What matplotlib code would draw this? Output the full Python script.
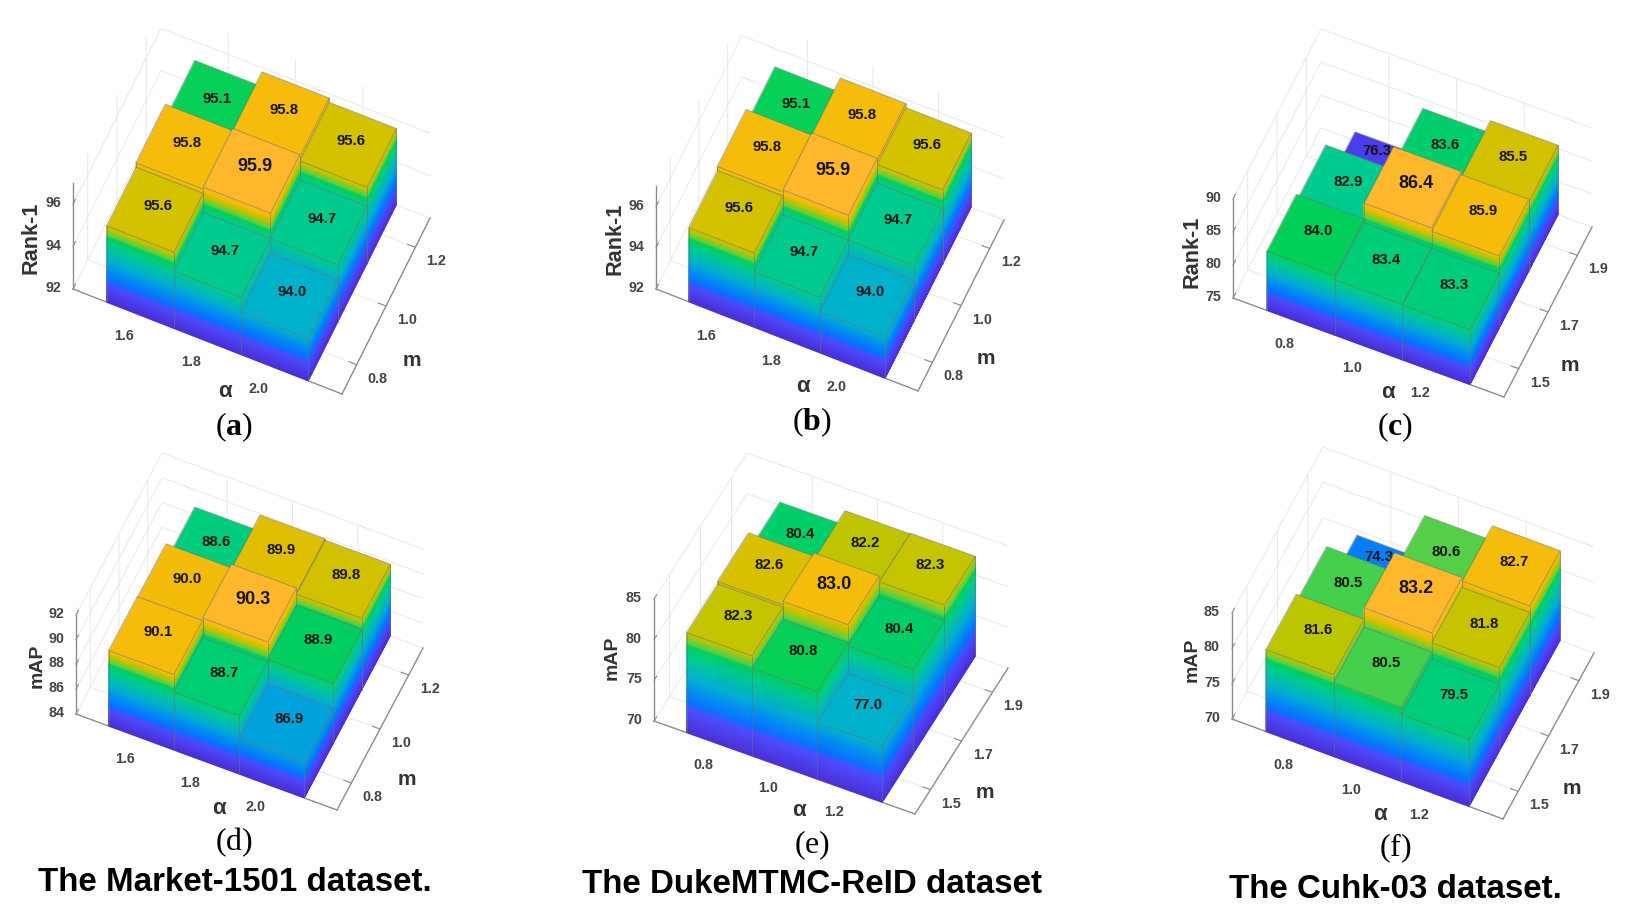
import numpy as np
import matplotlib
matplotlib.use('Agg')
import matplotlib.pyplot as plt
from matplotlib.colors import LinearSegmentedColormap
from mpl_toolkits.mplot3d import proj3d
from mpl_toolkits.mplot3d.art3d import Poly3DCollection, Line3DCollection

FW, FH = 1646, 922

# tick labels
alpha_a = ['1.6', '1.8', '2.0']
alpha_c = ['0.8', '1.0', '1.2']
m_a = ['0.8', '1.0', '1.2']
m_c = ['1.5', '1.7', '1.9']

# rows go from the front m value to the back one, columns follow alpha
rank_market = [[95.6, 94.7, 94.0], [95.8, 95.9, 94.7], [95.1, 95.8, 95.6]]
rank_duke = [[95.6, 94.7, 94.0], [95.8, 95.9, 94.7], [95.1, 95.8, 95.6]]
rank_cuhk = [[84.0, 83.4, 83.3], [82.9, 86.4, 85.9], [76.3, 83.6, 85.5]]
map_market = [[90.1, 88.7, 86.9], [90.0, 90.3, 88.9], [88.6, 89.9, 89.8]]
map_duke = [[82.3, 80.8, 77.0], [82.6, 83.0, 80.4], [80.4, 82.2, 82.3]]
map_cuhk = [[81.6, 80.5, 79.5], [80.5, 83.2, 81.8], [74.3, 80.6, 82.7]]

plt.rcParams['font.family'] = ['Liberation Sans', 'DejaVu Sans']
plt.rcParams['mathtext.fontset'] = 'custom'
plt.rcParams['mathtext.rm'] = 'Liberation Serif'
plt.rcParams['mathtext.bf'] = 'Liberation Serif:bold'

cmap = LinearSegmentedColormap.from_list('bars', [
    (0.00, '#4A2CD6'), (0.22, '#4A4CFF'), (0.27, '#0A6EFF'), (0.40, '#0090F0'),
    (0.50, '#00AFD0'), (0.62, '#00C0A8'), (0.70, '#00CC8C'), (0.795, '#00D058'),
    (0.81, '#4FCF4A'), (0.83, '#60D040'), (0.89, '#B8C600'), (0.93, '#D8C000'),
    (0.955, '#F5BC0C'), (0.98, '#F5BC0C'), (1.00, '#FFB82C')])

fig = plt.figure(figsize=(FW / 100, FH / 100), dpi=100)


def px_text(x, y, s, **kw):
    fig.text(x / FW, 1 - y / FH, s, ha='center', va='center', **kw)


def label3d(ax, x, y, z, s, dx, dy, **kw):
    # put a text next to a 3D point, shifted by some pixels on the page
    px, py, _ = proj3d.proj_transform(x, y, z, ax.get_proj())
    ax.annotate(s, (px, py), xytext=(dx, dy), textcoords='offset pixels', ha='center', va='center',
                annotation_clip=False, **kw)


def draw_panel(values, xlabels, ylabels, zticks, zlim, cmax, left, front, right, zpx, lift=None):
    values = np.array(values)
    # view from where the floor corners sit on the page
    ex = np.array(front) - np.array(left)
    ey = np.array(right) - np.array(front)
    a = ex[1] / ex[0]
    b = -ey[1] / ey[0]
    sin_el = np.sqrt(a * b)
    az = np.arctan(np.sqrt(b / a))
    el = np.arcsin(sin_el)
    lx = ex[0] / np.sin(az)
    ly = ey[0] / np.cos(az)
    lz = zpx / np.cos(el)

    W = 390
    zoom = np.sqrt(lx**2 + ly**2 + lz**2) * 1.85 / (W * 1.8294640721620434 * 25 / 24)
    cx = (left[0] + right[0]) / 2
    cy = (left[1] + right[1]) / 2 - zpx / 2
    off = 0.95 / 1.85 * W
    ax = fig.add_axes([(cx - off) / FW, (FH - cy - off) / FH, W / FW, W / FH], projection='3d')
    ax.set_proj_type('ortho')
    ax.view_init(elev=np.degrees(el), azim=-np.degrees(az))
    ax.set_box_aspect((lx, ly, lz), zoom=zoom)
    ax.patch.set_visible(False)
    ax.computed_zorder = False
    ax.set_xlim(0, 4, view_margin=0)
    ax.set_ylim(0.5, 3.5, view_margin=0)
    ax.set_zlim(zlim[0], zlim[1], view_margin=0)

    norm = plt.Normalize(zlim[0], cmax)
    step = (cmax - zlim[0]) / 110
    order = 10
    top = values.max()
    for j in (2, 1, 0):
        for i in (0, 1, 2):
            v = values[j, i]
            x0, x1, y0, y1 = i + 0.5, i + 1.5, j + 0.5, j + 1.5
            levels = np.append(np.arange(zlim[0], v, step), v)
            polys, cols = [], []
            for z0, z1 in zip(levels[:-1], levels[1:]):
                c = cmap(norm((z0 + z1) / 2))
                polys.append([(x0, y0, z0), (x1, y0, z0), (x1, y0, z1), (x0, y0, z1)])
                polys.append([(x1, y0, z0), (x1, y1, z0), (x1, y1, z1), (x1, y0, z1)])
                cols += [c, c]
            side = Poly3DCollection(polys, facecolors=cols, edgecolors=cols, linewidths=0.5, zorder=order)
            ax.add_collection3d(side)
            c_top = cmap(norm(v))
            lid = Poly3DCollection([[(x0, y0, v), (x1, y0, v), (x1, y1, v), (x0, y1, v)]],
                                   facecolors=[c_top], edgecolors=[c_top], linewidths=0.3, zorder=order + 1)
            ax.add_collection3d(lid)
            edges = [[(x0, y0, v), (x1, y0, v)], [(x1, y0, v), (x1, y1, v)],
                     [(x1, y1, v), (x0, y1, v)], [(x0, y1, v), (x0, y0, v)],
                     [(x0, y0, zlim[0]), (x0, y0, v)], [(x1, y0, zlim[0]), (x1, y0, v)],
                     [(x1, y1, zlim[0]), (x1, y1, v)]]
            ax.add_collection3d(Line3DCollection(edges, colors=[(0.42, 0.45, 0.45, 0.55)],
                                                 linewidths=0.7, zorder=order + 2))
            big = v == top
            up = 4
            if lift and (j, i) in lift:
                up = lift[(j, i)]
            label3d(ax, i + 1, j + 1, v, f'{v:.1f}', 3, up, color='#151515',
                    fontsize=13 if big else 10.8, fontweight='bold', zorder=order + 3)
            order += 5

    ax.set_xticks([1, 2, 3], ['', '', ''])
    ax.set_yticks([1, 2, 3], ['', '', ''])
    ax.set_zticks(zticks, [''] * len(zticks))
    ax.zaxis.set_ticks_position('lower')
    for axis in (ax.xaxis, ax.yaxis, ax.zaxis):
        axis.set_pane_color((1, 1, 1, 0))
        axis.pane.set_edgecolor('none')
        axis.line.set_color('#8c8c8c')
        axis.line.set_linewidth(1.0)
        axis._axinfo['grid'].update(color='#e8e8e8', linewidth=0.7)
        axis._axinfo['tick'].update(inward_factor=0.0, outward_factor=0.35)
    ax.tick_params(axis='both', colors='#8c8c8c')

    # tick labels, placed from the axis edges they belong to
    tick_kw = dict(color='#444444', fontsize=10.3, fontweight='bold')
    for k, s in enumerate(xlabels):
        label3d(ax, k + 1, 0.5, zlim[0], s, -16, -21, **tick_kw)
    for k, s in enumerate(ylabels):
        label3d(ax, 4, k + 1, zlim[0], s, 21, -14, **tick_kw)
    for z in zticks:
        label3d(ax, 0, 0.5, z, str(z), -20, 1, **tick_kw)
    return ax


draw_panel(rank_market, alpha_a, m_a, [92, 94, 96], (92, 97), 95.9, (73, 289), (342, 394), (430, 218), 106)
draw_panel(rank_duke, alpha_a, m_a, [92, 94, 96], (92, 97), 95.9, (656, 289), (918, 391), (1004, 220), 103)
draw_panel(rank_cuhk, alpha_c, m_c, [75, 80, 85, 90], (75, 90), 86.4, (1233, 298), (1504, 397), (1592, 227), 99,
           lift={(2, 0): 22})
draw_panel(map_market, alpha_a, m_a, [84, 86, 88, 90, 92], (84, 92), 90.3, (76, 714), (337, 810), (423, 648), 99)
draw_panel(map_duke, alpha_c, m_c, [70, 75, 80, 85], (70, 85), 83.6, (654, 721), (915, 814), (1008, 668), 122)
draw_panel(map_cuhk, alpha_c, m_c, [70, 75, 80, 85], (70, 85), 83.0, (1232, 719), (1503, 819), (1594, 653), 106,
           lift={(2, 0): 18})

# axis titles
for x, y, s in [(31, 238, 'Rank-1'), (615, 239, 'Rank-1'), (1192, 252, 'Rank-1')]:
    px_text(x, y, s, rotation=90, fontsize=15.6, fontweight='bold', color='#333333')
for x, y, s in [(37, 666, 'mAP'), (612, 658, 'mAP'), (1192, 660, 'mAP')]:
    px_text(x, y, s, rotation=90, fontsize=14, fontweight='bold', color='#333333')
for x, y in [(225, 391), (803, 387), (1388, 393), (219, 808), (799, 810), (1380, 814)]:
    px_text(x, y, 'α', fontsize=16, fontweight='bold', color='#333333')
for x, y in [(412, 361), (986, 358), (1570, 365), (407, 779), (985, 792), (1572, 788)]:
    px_text(x, y, 'm', fontsize=15, fontweight='bold', color='#333333')

# sub captions
for x, y, s in [(234, 427, r'$(\mathbf{a})$'), (812, 422, r'$(\mathbf{b})$'), (1395, 427, r'$(\mathbf{c})$'),
                (234, 842, r'$(\mathrm{d})$'), (812, 845, r'$(\mathrm{e})$'), (1395, 848, r'$(\mathrm{f})$')]:
    px_text(x, y, s, fontsize=23, color='black')

px_text(235, 882, 'The Market-1501 dataset.', fontsize=23.9, fontweight='bold', color='black')
px_text(812, 884, 'The DukeMTMC-ReID dataset', fontsize=23.9, fontweight='bold', color='black')
px_text(1395, 889, 'The Cuhk-03 dataset.', fontsize=23.9, fontweight='bold', color='black')

fig.savefig('out.png', dpi=100)
